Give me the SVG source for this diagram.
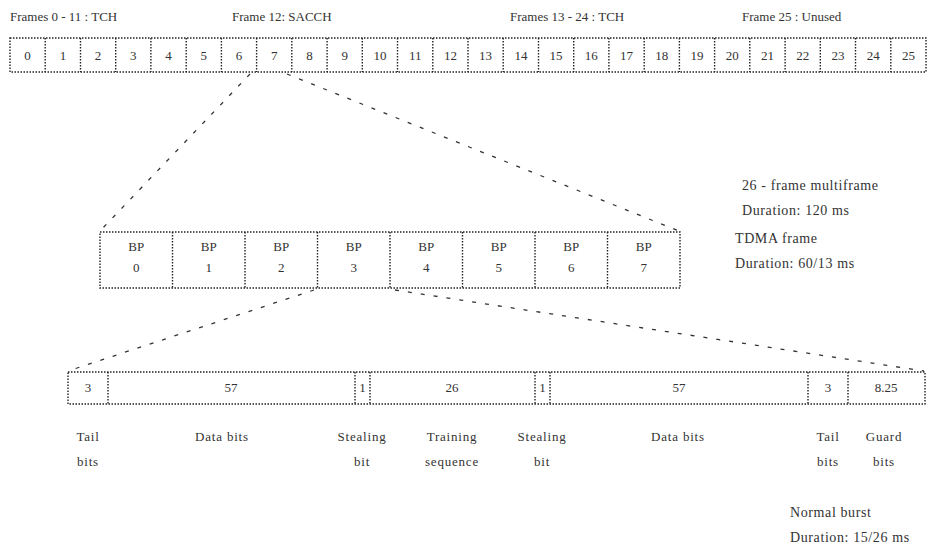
<svg xmlns="http://www.w3.org/2000/svg" width="929" height="549" viewBox="0 0 929 549">
<style>
text{font-family:"Liberation Serif","DejaVu Serif",serif;font-size:13px;fill:#333}
.c{text-anchor:middle}
.s{font-size:14px;letter-spacing:0.6px}
.w{letter-spacing:0.8px}
.b{fill:#fff;stroke:#222;stroke-width:1.4;stroke-dasharray:1.5 1.5}
.d{stroke:#222;stroke-width:1.4;stroke-dasharray:1.5 1.5;fill:none}
.cn{stroke:#333;stroke-width:1.3;stroke-dasharray:4 9;fill:none}
</style>
<g id="labels-top">
<text x="10" y="21">Frames 0 - 11 : TCH</text>
<text x="232" y="21">Frame 12: SACCH</text>
<text x="510" y="21">Frames 13 - 24 : TCH</text>
<text x="742" y="21">Frame 25 : Unused</text>
</g>
<g id="multiframe">
<rect class="b" x="10" y="38" width="916" height="34"/>
<path class="d" d="M45.2 38V72M80.5 38V72M115.7 38V72M150.9 38V72M186.2 38V72M221.4 38V72M256.6 38V72M291.8 38V72M327.1 38V72M362.3 38V72M397.5 38V72M432.8 38V72M468 38V72M503.2 38V72M538.5 38V72M573.7 38V72M608.9 38V72M644.2 38V72M679.4 38V72M714.6 38V72M749.8 38V72M785.1 38V72M820.3 38V72M855.5 38V72M890.8 38V72"/>
<g class="c">
<text x="27.6" y="60">0</text><text x="62.9" y="60">1</text><text x="98.1" y="60">2</text><text x="133.3" y="60">3</text><text x="168.6" y="60">4</text><text x="203.8" y="60">5</text><text x="239" y="60">6</text><text x="274.2" y="60">7</text><text x="309.5" y="60">8</text><text x="344.7" y="60">9</text><text x="379.9" y="60">10</text><text x="415.2" y="60">11</text><text x="450.4" y="60">12</text><text x="485.6" y="60">13</text><text x="520.9" y="60">14</text><text x="556.1" y="60">15</text><text x="591.3" y="60">16</text><text x="626.5" y="60">17</text><text x="661.8" y="60">18</text><text x="697" y="60">19</text><text x="732.2" y="60">20</text><text x="767.5" y="60">21</text><text x="802.7" y="60">22</text><text x="837.9" y="60">23</text><text x="873.2" y="60">24</text><text x="908.4" y="60">25</text>
</g>
<text class="s" x="742" y="190">26 - frame multiframe</text>
<text class="s" x="742" y="215">Duration: 120 ms</text>
</g>
<g id="tdma">
<rect class="b" x="100" y="232" width="580" height="56"/>
<path class="d" d="M172.5 232V288M245 232V288M317.5 232V288M390 232V288M462.5 232V288M535 232V288M607.5 232V288"/>
<g class="c">
<text x="136.3" y="251">BP</text><text x="136.3" y="272">0</text>
<text x="208.8" y="251">BP</text><text x="208.8" y="272">1</text>
<text x="281.3" y="251">BP</text><text x="281.3" y="272">2</text>
<text x="353.8" y="251">BP</text><text x="353.8" y="272">3</text>
<text x="426.3" y="251">BP</text><text x="426.3" y="272">4</text>
<text x="498.8" y="251">BP</text><text x="498.8" y="272">5</text>
<text x="571.3" y="251">BP</text><text x="571.3" y="272">6</text>
<text x="643.8" y="251">BP</text><text x="643.8" y="272">7</text>
</g>
<text class="s" x="735" y="243">TDMA frame</text>
<text class="s" x="735" y="268">Duration: 60/13 ms</text>
</g>
<g id="burst">
<rect class="b" x="68" y="372" width="857" height="32"/>
<path class="d" d="M108 372V404M355 372V404M370 372V404M535 372V404M550 372V404M808 372V404M848 372V404"/>
<g class="c">
<text x="88" y="392">3</text><text x="231" y="392">57</text><text x="362.5" y="392">1</text><text x="452" y="392">26</text><text x="542.5" y="392">1</text><text x="679" y="392">57</text><text x="828" y="392">3</text><text x="886" y="392">8.25</text>
</g>
<g class="c w">
<text x="88" y="441">Tail</text><text x="88" y="466">bits</text>
<text x="222" y="441">Data bits</text>
<text x="362" y="441">Stealing</text><text x="362" y="466">bit</text>
<text x="452" y="441">Training</text><text x="452" y="466">sequence</text>
<text x="542" y="441">Stealing</text><text x="542" y="466">bit</text>
<text x="678" y="441">Data bits</text>
<text x="828" y="441">Tail</text><text x="828" y="466">bits</text>
<text x="884" y="441">Guard</text><text x="884" y="466">bits</text>
</g>
<text class="s" x="790" y="517">Normal burst</text>
<text class="s" x="790" y="542">Duration: 15/26 ms</text>
</g>
<g id="connectors">
<path class="cn" d="M250 74L100 231"/>
<path class="cn" d="M287 74L679 231"/>
<path class="cn" d="M314 290L68 371"/>
<path class="cn" d="M395 290L924 371"/>
</g>
</svg>
